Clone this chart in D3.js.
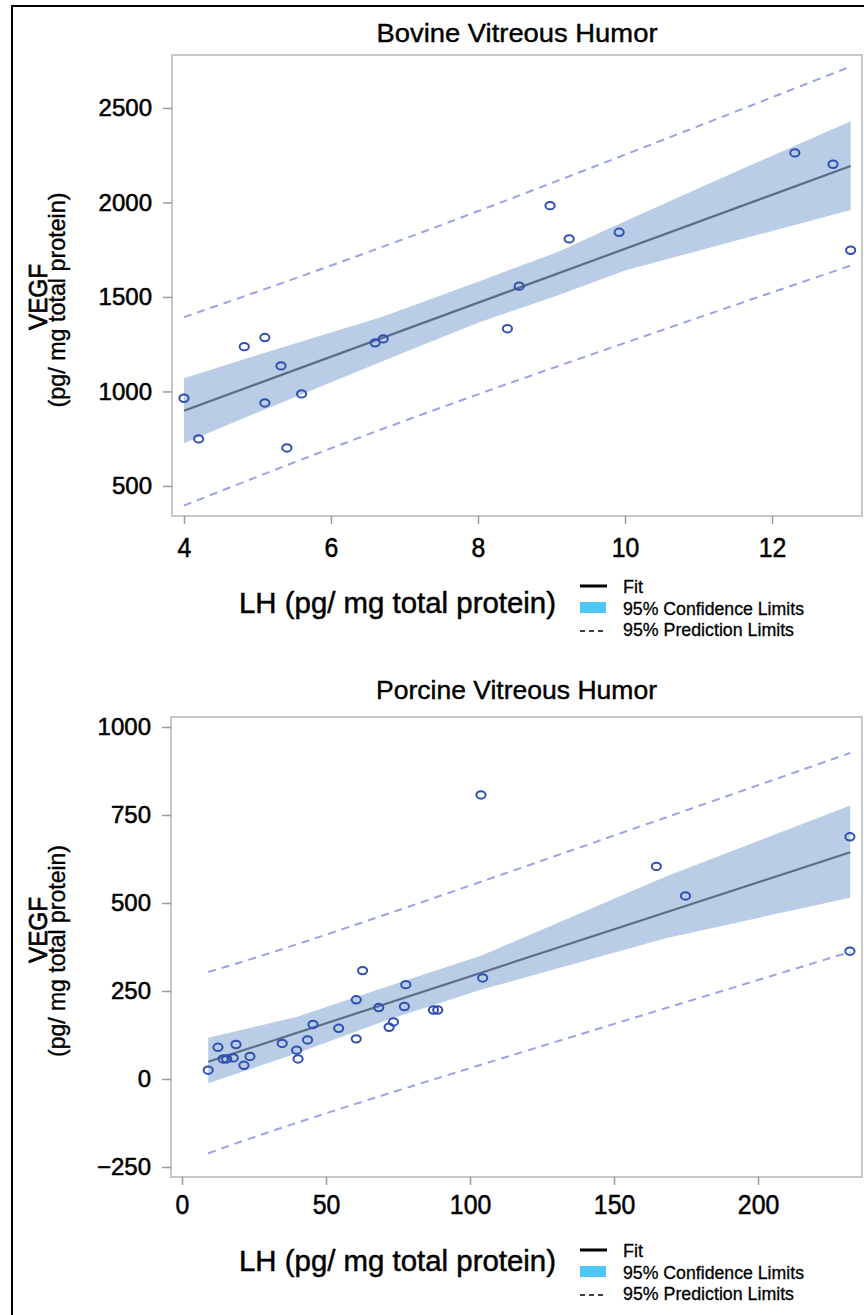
<!DOCTYPE html>
<html><head><meta charset="utf-8">
<script src="https://cdn.jsdelivr.net/npm/d3@7"></script>
<style>
body{margin:0;background:#fff}
text{font-family:"Liberation Sans",Arial,Helvetica,sans-serif}
</style></head>
<body><svg id="c" width="864" height="1315"></svg>
<script>
// ---------- Bovine data ----------
const bovineLH   = [4.0, 4.2, 4.82, 5.1, 5.32, 5.1, 5.6, 5.4, 6.6, 6.71, 8.4, 8.56, 8.98, 9.24, 9.92, 12.31, 12.83, 13.07];
const bovineVEGF = [964, 749, 1237, 1285, 1135, 939, 987, 701, 1257, 1278, 1332, 1557, 1983, 1807, 1842, 2262, 2202, 1747];
const bovineFitX = [4, 13.07];
const bovineFitY = [898, 2193];
const bovineCIX  = [4, 5.1, 6.7, 8.0, 9.1, 10.0, 11.2, 13.07];
const bovineCILo = [726, 905, 1160, 1364, 1510, 1640, 1766, 1960];
const bovineCIHi = [1070, 1205, 1395, 1581, 1740, 1900, 2110, 2430];
const bovinePLX  = [4, 7.6, 13.07];
const bovinePLLo = [396, 929, 1666];
const bovinePLHi = [1393, 1895, 2719];
const bovineXTicks = [4, 6, 8, 10, 12];
const bovineYTicks = [500, 1000, 1500, 2000, 2500];

// ---------- Porcine data ----------
const porcineLH   = [9.1, 12.5, 14.3, 15.5, 17.8, 18.75, 21.5, 23.6, 34.8, 39.8, 40.3, 43.6, 45.5, 54.4, 60.5, 60.5, 62.7, 68.3, 71.9, 73.4, 77.2, 77.7, 87.3, 88.8, 103.8, 104.4, 164.7, 174.8, 231.9, 231.9];
const porcineVEGF = [25, 90, 57, 57, 60, 98, 39, 64, 101, 82, 57, 111, 155, 144, 225, 114, 308, 203, 147, 162, 206, 268, 196, 196, 807, 287, 604, 520, 688, 363];
const porcineFitX = [9.1, 232];
const porcineFitY = [49, 644];
const porcineCIX  = [9.1, 40, 71, 104, 168, 232];
const porcineCILo = [-12, 73, 167, 254, 400, 515];
const porcineCIHi = [117, 177, 262, 351, 575, 777];
const porcinePLX  = [9.1, 71, 232];
const porcinePLLo = [-211, -43, 361];
const porcinePLHi = [304, 468, 926];
const porcineXTicks = [0, 50, 100, 150, 200];
const porcineYTicks = [-250, 0, 250, 500, 750, 1000];

const legendLabels = ["Fit", "95% Confidence Limits", "95% Prediction Limits"];
const xTitle = "LH (pg/ mg total protein)";
const yTitle = "VEGF";
const ySub = "(pg/ mg total protein)";

const C = {
  band: "#b9cde7", fit: "#5d6d88", pt: "#2f50b2", pred: "#9aa3e6",
  frame: "#c4c8cb", tick: "#9a9a9a", swatch: "#4fc6f5"
};
const TS = 0.55; // text stroke to mimic the heavier face

const svg = d3.select("#c");
svg.append("rect").attr("width",864).attr("height",1315).attr("fill","#fff");
svg.append("path").attr("d","M12,1315 L12,6 L864,6").attr("fill","none").attr("stroke","#000").attr("stroke-width",2);

function zip(a,b){ return a.map((v,i)=>[v,b[i]]); }
function heavy(sel, w){ return sel.attr("fill","#000").attr("stroke","#000").attr("stroke-width", w==null?TS:w); }

function panel(p){
  const g = svg.append("g");
  const x = d3.scaleLinear().domain(p.xDom).range([p.L, p.R]);
  const y = d3.scaleLinear().domain(p.yDom).range([p.B, p.T]);

  heavy(g.append("text").attr("x", (p.L+p.R)/2).attr("y", p.titleY)
    .attr("text-anchor","middle").attr("font-size",26)
    .attr("textLength", p.titleLen).attr("lengthAdjust","spacingAndGlyphs").text(p.title), 0.4);

  const band = p.ciX.map((v,i)=>({x:v, lo:p.ciLo[i], hi:p.ciHi[i]}));
  g.append("path").datum(band)
    .attr("d", d3.area().x(d=>x(d.x)).y0(d=>y(d.lo)).y1(d=>y(d.hi)))
    .attr("fill", C.band);

  const line = d3.line().x(d=>x(d[0])).y(d=>y(d[1])).curve(d3.curveNatural);
  [p.plLo, p.plHi].forEach(arr=>{
    g.append("path").datum(zip(p.plX, arr)).attr("d", line)
      .attr("fill","none").attr("stroke",C.pred).attr("stroke-width",2)
      .attr("stroke-dasharray","8,6");
  });

  g.append("path").datum(zip(p.fitX, p.fitY))
    .attr("d", d3.line().x(d=>x(d[0])).y(d=>y(d[1])))
    .attr("fill","none").attr("stroke",C.fit).attr("stroke-width",2.2);

  g.selectAll("ellipse.pt").data(zip(p.px, p.py)).join("ellipse")
    .attr("cx", d=>x(d[0])).attr("cy", d=>y(d[1])).attr("rx",4.6).attr("ry",3.7)
    .attr("fill","none").attr("stroke",C.pt).attr("stroke-width",2);

  g.append("rect").attr("x",p.L).attr("y",p.T).attr("width",p.R-p.L).attr("height",p.B-p.T)
    .attr("fill","none").attr("stroke",C.frame).attr("stroke-width",2);

  const ya = g.append("g").attr("transform",`translate(${p.L},0)`)
    .call(d3.axisLeft(y).tickValues(p.yTicks).tickSizeInner(9).tickSizeOuter(0).tickPadding(11).tickFormat(d3.format("d")));
  ya.select(".domain").remove();
  ya.selectAll(".tick line").attr("stroke",C.tick).attr("stroke-width",1.5);
  heavy(ya.selectAll(".tick text").attr("font-size",24)
    .attr("font-family",'"Liberation Sans",Arial,sans-serif'));

  const xa = g.append("g").attr("transform",`translate(0,${p.B})`)
    .call(d3.axisBottom(x).tickValues(p.xTicks).tickSizeInner(8).tickSizeOuter(0).tickFormat(d3.format("d")));
  xa.select(".domain").remove();
  xa.selectAll(".tick line").attr("stroke",C.tick).attr("stroke-width",1.5);
  heavy(xa.selectAll(".tick text").attr("font-size",28)
    .attr("font-family",'"Liberation Sans",Arial,sans-serif')
    .attr("y", p.xLabOff).attr("dy",0)
    .attr("textLength", d=>String(d).length*13.8).attr("lengthAdjust","spacingAndGlyphs"));

  heavy(g.append("text").attr("transform",`translate(47,${p.vegfY}) rotate(-90)`)
    .attr("text-anchor","middle").attr("font-size",26)
    .attr("textLength",66).attr("lengthAdjust","spacingAndGlyphs").text(yTitle), 0.7);
  heavy(g.append("text").attr("transform",`translate(65,${p.subY}) rotate(-90)`)
    .attr("text-anchor","middle").attr("font-size",24)
    .attr("textLength",p.subLen).attr("lengthAdjust","spacingAndGlyphs").text(ySub), 0.4);

  heavy(g.append("text").attr("x",239).attr("y",p.xTitleY).attr("font-size",30)
    .attr("textLength",317).attr("lengthAdjust","spacingAndGlyphs").text(xTitle), 0.5);

  const lb = p.legY;
  const lg = g.append("g");
  lg.append("line").attr("x1",580).attr("x2",607).attr("y1",lb-7).attr("y2",lb-7)
    .attr("stroke","#000").attr("stroke-width",3);
  lg.append("rect").attr("x",580).attr("y",lb+9).attr("width",26).attr("height",11).attr("fill",C.swatch);
  lg.append("line").attr("x1",580).attr("x2",607).attr("y1",lb+38).attr("y2",lb+38)
    .attr("stroke","#000").attr("stroke-width",1.6).attr("stroke-dasharray","5,4");
  const lens = [20, 181, 171];
  legendLabels.forEach((t,i)=>{
    heavy(lg.append("text").attr("x",623).attr("y", lb + i*21.5).attr("font-size",18)
      .attr("textLength",lens[i]).attr("lengthAdjust","spacingAndGlyphs").text(t), 0.3);
  });
}

panel({
  title:"Bovine Vitreous Humor", titleY:42, titleLen:281,
  xDom:[3.837, 13.224], yDom:[341, 2780], L:172, R:862, T:55, B:516,
  px:bovineLH, py:bovineVEGF, fitX:bovineFitX, fitY:bovineFitY,
  ciX:bovineCIX, ciLo:bovineCILo, ciHi:bovineCIHi,
  plX:bovinePLX, plLo:bovinePLLo, plHi:bovinePLHi,
  xTicks:bovineXTicks, yTicks:bovineYTicks, xLabOff:41,
  vegfY:297, subY:300, subLen:215, xTitleY:613, legY:593
});

panel({
  title:"Porcine Vitreous Humor", titleY:699, titleLen:281,
  xDom:[-3.82, 236.1], yDom:[-278.4, 1028.4], L:171, R:862, T:717, B:1177,
  px:porcineLH, py:porcineVEGF, fitX:porcineFitX, fitY:porcineFitY,
  ciX:porcineCIX, ciLo:porcineCILo, ciHi:porcineCIHi,
  plX:porcinePLX, plLo:porcinePLLo, plHi:porcinePLHi,
  xTicks:porcineXTicks, yTicks:porcineYTicks, xLabOff:37,
  vegfY:930, subY:951, subLen:212, xTitleY:1271, legY:1257
});
</script></body></html>
